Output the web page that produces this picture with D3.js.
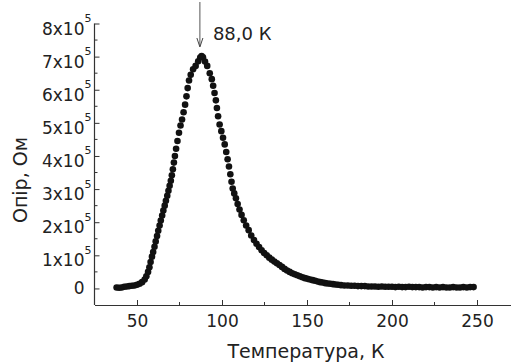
<!DOCTYPE html>
<html>
<head>
<meta charset="utf-8">
<script src="https://cdn.jsdelivr.net/npm/d3@7"></script>
<style>
  html, body { margin: 0; padding: 0; background: #fff; }
  svg text { font-family: "DejaVu Sans", sans-serif; fill: #222; }
</style>
</head>
<body>
<div id="chart"></div>
<script>
// temperature, K
const temps = [
  38, 39.5, 41, 42.5, 44, 45.5, 47, 48.5, 50, 51.5, 53, 54.5, 55.5, 56.5, 57.3, 58, 58.8, 59.5,
  60.3, 61, 61.8, 62.5, 63.3, 64, 64.8, 65.5, 66.3, 67, 67.8, 68.5, 69.2, 69.9, 70.5, 71.1, 71.7,
  72.3, 73, 73.8, 74.7, 75.6, 76.5, 77.4, 78.3, 79.1, 79.8, 80.6, 81.6, 83, 84.5, 86, 87.2, 88,
  88.8, 90, 91.3, 92.8, 94, 94.8, 95.6, 96.4, 97, 97.7, 98.6, 99.6, 100.6, 101.6, 102.5, 103.3,
  104.1, 104.9, 105.6, 106.3, 107.2, 108.2, 109.2, 110.3, 111.5, 112.8, 114.2, 115.7, 117.2,
  118.8, 120.3, 121.8, 123.3, 124.8, 126.3, 127.8, 129.3, 130.8, 132.3, 133.8, 135.3, 136.8,
  138.3, 139.8, 141.3, 142.8, 144.3, 145.8, 147.3, 148.8, 150.3, 151.8, 153.3, 154.8, 156.3,
  157.8, 159.3, 160.8, 162.3, 163.8, 165.3, 166.8, 168.3, 170,
  172, 174, 176, 178, 180, 182, 184, 186, 188, 190, 192, 194, 196, 198, 200, 202, 204, 206,
  208, 210, 212, 214, 216, 218, 220, 222, 224, 226, 228, 230, 232, 234, 236, 238, 240, 242,
  244, 246, 248
];

// resistance, x10^5 Ohm
const resist = [
  0.03, 0.02, 0.03, 0.05, 0.06, 0.07, 0.08, 0.09, 0.11, 0.14, 0.19, 0.27, 0.37, 0.5, 0.64, 0.8, 0.96, 1.1,
  1.26, 1.42, 1.58, 1.74, 1.9, 2.05, 2.2, 2.35, 2.5, 2.65, 2.8, 2.95, 3.1, 3.25, 3.42, 3.6, 3.8,
  4.0, 4.22, 4.45, 4.7, 4.92, 5.1, 5.32, 5.55, 5.8, 6.05, 6.28, 6.45, 6.62, 6.72, 6.86, 6.97, 7.02,
  6.98, 6.85, 6.72, 6.5, 6.32, 6.12, 5.9, 5.68, 5.45, 5.2, 4.95, 4.75, 4.55, 4.35, 4.12, 3.9,
  3.68, 3.45, 3.22, 3.02, 2.87, 2.72, 2.55, 2.38, 2.22, 2.06, 1.9, 1.76, 1.6,
  1.46, 1.35, 1.25, 1.15, 1.07, 1.0, 0.93, 0.87, 0.81, 0.76, 0.71, 0.65, 0.59,
  0.54, 0.5, 0.46, 0.43, 0.4, 0.37, 0.34, 0.31, 0.29, 0.27, 0.25, 0.23, 0.21,
  0.19, 0.18, 0.16, 0.15, 0.14, 0.13, 0.12, 0.11, 0.1,
  0.09, 0.09, 0.08, 0.08, 0.07, 0.07, 0.07, 0.06, 0.06, 0.06, 0.05, 0.06, 0.05, 0.05, 0.05, 0.04, 0.05, 0.04,
  0.04, 0.05, 0.04, 0.04, 0.04, 0.03, 0.04, 0.04, 0.03, 0.04, 0.03, 0.04, 0.03, 0.03, 0.04, 0.03, 0.03, 0.04,
  0.03, 0.04, 0.04
];

const xTicks = [50, 100, 150, 200, 250];
const xMinorTicks = [75, 125, 175, 225];
const yTicks = [0, 1, 2, 3, 4, 5, 6, 7, 8];
const yMinorTicks = [0.5, 1.5, 2.5, 3.5, 4.5, 5.5, 6.5, 7.5];
const peakT = 87;
const peakLabel = "88,0 К";

const width = 511;
const height = 363;

const svg = d3.select("div#chart")
  .append("svg")
  .attr("width", width)
  .attr("height", height);

// scales
const x = d3.scaleLinear().domain([25, 270]).range([94.5, 511]);
const y = d3.scaleLinear().domain([-0.5, 8]).range([305, 23.5]);

// x axis, ticks pointing inwards
const xAxis = svg.append("g")
  .attr("transform", "translate(0," + y(-0.5) + ")")
  .call(d3.axisBottom(x).tickValues(xTicks).tickSizeInner(-5).tickSizeOuter(0).tickPadding(10));
xAxis.select(".domain").attr("stroke", "#333").attr("stroke-width", 1.2);
xAxis.selectAll(".tick line").attr("stroke", "#333");
xAxis.selectAll(".tick text").attr("font-size", 17).attr("fill", "#222");
xAxis.selectAll(".minor")
  .data(xMinorTicks)
  .enter().append("line")
  .attr("x1", d => x(d)).attr("x2", d => x(d))
  .attr("y1", 0).attr("y2", -3)
  .attr("stroke", "#333");

// y axis
const yAxis = svg.append("g")
  .attr("transform", "translate(" + x(25) + ",0)")
  .call(d3.axisLeft(y).tickValues(yTicks).tickSizeInner(-5).tickSizeOuter(0).tickPadding(10)
    .tickFormat(d => d === 0 ? "0" : d + "x10"));
yAxis.select(".domain").attr("stroke", "#333").attr("stroke-width", 1.2)
  .attr("d", "M0," + y(8) + "V" + y(-0.5));
yAxis.selectAll(".tick line").attr("stroke", "#333");
yAxis.selectAll(".tick text")
  .attr("font-size", 17)
  .attr("dy", d => d === 0 ? "0.32em" : "0.62em");
// superscript exponent
yAxis.selectAll(".tick")
  .filter(d => d !== 0)
  .append("text")
  .attr("x", -10)
  .attr("y", -2)
  .attr("font-size", 11)
  .attr("text-anchor", "start")
  .attr("fill", "#222")
  .text("5");
yAxis.selectAll(".minor")
  .data(yMinorTicks)
  .enter().append("line")
  .attr("y1", d => y(d)).attr("y2", d => y(d))
  .attr("x1", 0).attr("x2", 3)
  .attr("stroke", "#333");

// data points
svg.append("g")
  .selectAll("circle")
  .data(temps.map((t, i) => [t, resist[i]]))
  .enter().append("circle")
  .attr("cx", d => x(d[0]))
  .attr("cy", d => y(d[1]))
  .attr("r", 3.3)
  .attr("fill", "#111");

// peak arrow and label
const ax = x(peakT);
svg.append("line")
  .attr("x1", ax).attr("x2", ax)
  .attr("y1", 2).attr("y2", 46)
  .attr("stroke", "#555").attr("stroke-width", 1);
svg.append("path")
  .attr("d", "M" + (ax - 3) + ",38L" + ax + ",47L" + (ax + 3) + ",38")
  .attr("fill", "none").attr("stroke", "#444").attr("stroke-width", 1);
svg.append("text")
  .attr("x", ax + 13)
  .attr("y", 40)
  .attr("font-size", 18)
  .text(peakLabel);

// axis titles
svg.append("text")
  .attr("x", 306)
  .attr("y", 358)
  .attr("text-anchor", "middle")
  .attr("font-size", 19)
  .text("Температура, К");

svg.append("text")
  .attr("transform", "translate(27,180) rotate(-90)")
  .attr("text-anchor", "middle")
  .attr("font-size", 19)
  .text("Опір, Ом");
</script>
</body>
</html>
